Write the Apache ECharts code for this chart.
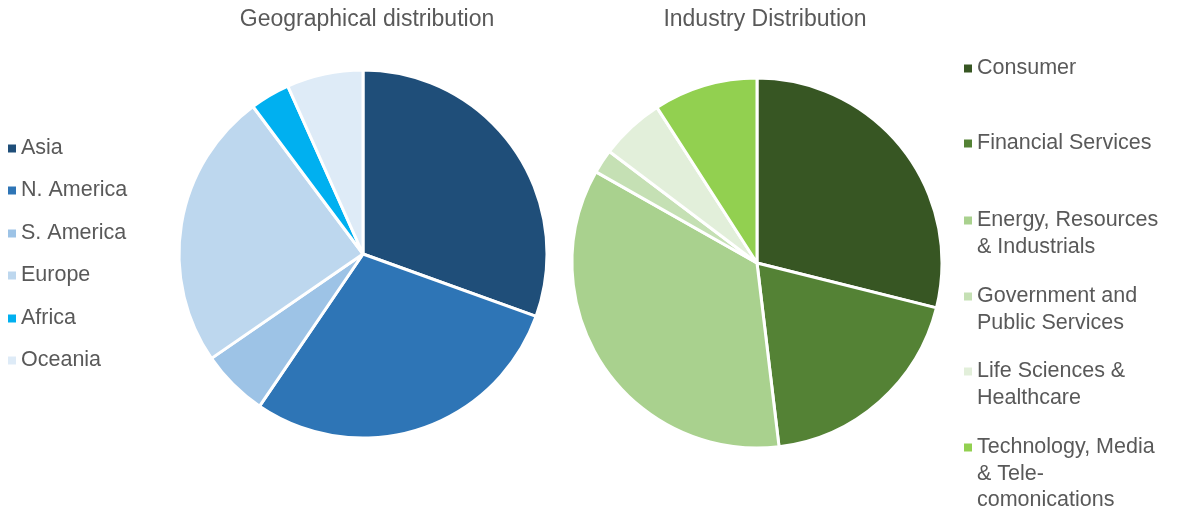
<!DOCTYPE html>
<html><head><meta charset="utf-8">
<script src="https://cdn.jsdelivr.net/npm/echarts@6/dist/echarts.min.js"></script>
<style>html,body{margin:0;padding:0;background:#fff}#c{width:1184px;height:515px}</style>
</head><body><div id="c"></div>
<script>
const geoNames = ['Asia','N. America','S. America','Europe','Africa','Oceania'];
const geoValues = [30.5, 29.0, 5.9, 24.4, 3.5, 6.7];
const geoColors = ['#1F4E79','#2E75B6','#9DC3E6','#BDD7EE','#00B0F0','#DEEBF7'];
const indNames = ['Consumer','Financial Services','Energy, Resources & Industrials','Government and Public Services','Life Sciences & Healthcare','Technology, Media & Tele-comonications'];
const indLabels = ['Consumer','Financial Services','Energy, Resources\n& Industrials','Government and\nPublic Services','Life Sciences &\nHealthcare','Technology, Media\n& Tele-\ncomonications'];
const indValues = [28.9, 19.2, 35.1, 2.1, 5.6, 9.1];
const indColors = ['#375623','#548235','#A9D18E','#C5E0B4','#E2EFDA','#92D050'];

const FONT = 'Liberation Sans, Arial, sans-serif';
const TXT = '#595959';
const LH = 26.5;
const FS = 21.5;
const geoLegendY = [148.5,190.5,233.5,275.5,318.5,360.5];
const indLegendY = [68.5,143.5,220.5,296.5,371.5,447.5];

const legends = [];
geoNames.forEach((n,i)=>{
  legends.push({
    data:[n], left:8, top: geoLegendY[i]-LH/2, padding:0, icon:'rect', itemWidth:8, itemHeight:8, itemGap:0,
    selectedMode:false, itemStyle:{borderWidth:0},
    textStyle:{color:TXT, fontSize:FS, fontFamily:FONT, lineHeight:LH}
  });
});
indNames.forEach((n,i)=>{
  const lines = indLabels[i].split('\n').length;
  const pre = '\n'.repeat(lines-1);
  legends.push({
    data:[n], left:964, top: indLegendY[i] - (2*lines-1)*LH/2, padding:0, icon:'rect', itemWidth:8, itemHeight:8, itemGap:0,
    selectedMode:false, itemStyle:{borderWidth:0},
    formatter: ()=>pre + indLabels[i],
    textStyle:{color:TXT, fontSize:FS, fontFamily:FONT, lineHeight:LH}
  });
});

const chart = echarts.init(document.getElementById('c'), null, {renderer:'canvas'});
chart.setOption({
  animation:false,
  title:[
    {text:'Geographical distribution', left:362, top:3, textAlign:'center', textStyle:{color:TXT, fontSize:23, fontWeight:'normal', fontFamily:FONT}},
    {text:'Industry Distribution', left:760, top:3, textAlign:'center', textStyle:{color:TXT, fontSize:23, fontWeight:'normal', fontFamily:FONT}}
  ],
  legend: legends,
  series:[
    {type:'pie', center:[363,254], radius:184, startAngle:90, clockwise:true, silent:true,
     label:{show:false}, labelLine:{show:false},
     itemStyle:{borderColor:'#fff', borderWidth:3},
     data: geoNames.map((n,i)=>({name:n, value:geoValues[i], itemStyle:{color:geoColors[i]}}))},
    {type:'pie', center:[757,263], radius:185, startAngle:90, clockwise:true, silent:true,
     label:{show:false}, labelLine:{show:false},
     itemStyle:{borderColor:'#fff', borderWidth:3},
     data: indNames.map((n,i)=>({name:n, value:indValues[i], itemStyle:{color:indColors[i]}}))}
  ]
});
</script></body></html>
